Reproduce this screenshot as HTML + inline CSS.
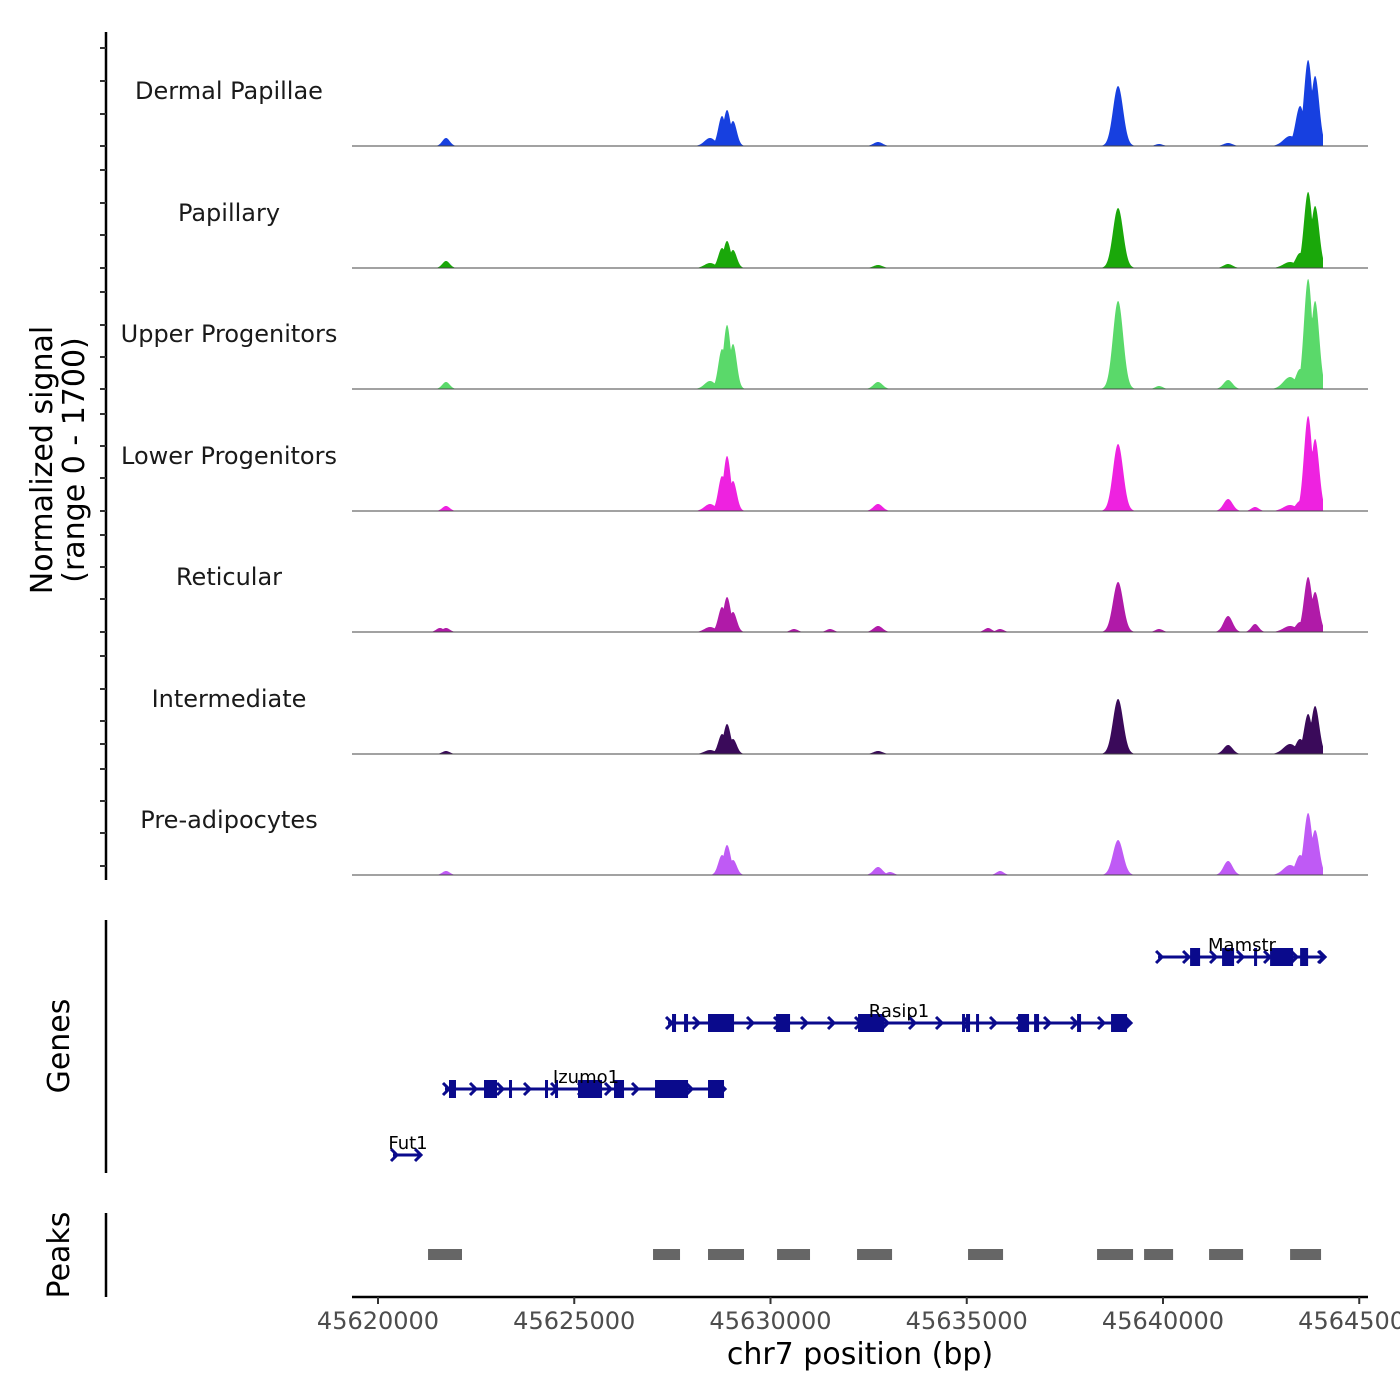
<!DOCTYPE html>
<html><head><meta charset="utf-8"><style>
html,body{margin:0;padding:0;background:#fff;}
svg{display:block;font-family:"DejaVu Sans","Liberation Sans",sans-serif;}
</style></head><body>
<svg id="chart" width="1400" height="1400" viewBox="0 0 1400 1400" xmlns="http://www.w3.org/2000/svg">
<g id="tracks"></g>
<g id="genes"></g>
<g id="peaks"></g>
<g id="axes"></g>
</svg>
<script>
const NS="http://www.w3.org/2000/svg";
const START=45620000;
const trackNames=["Dermal Papillae","Papillary","Upper Progenitors","Lower Progenitors","Reticular","Intermediate","Pre-adipocytes"];
const trackColors=["#1740e0","#1aa80a","#5ad96a","#ee22e0","#b01aa8","#3a0a5a","#bf5af5"];
const peakCenters=[1580,1733,8459,8765,8893,9045,10600,11517,12740,13046,15543,15849,18855,19900,21658,22346,23238,23493,23697,23875];
const peakWidths=[95,95,140,95,95,95,95,95,115,95,95,95,130,95,115,95,170,115,105,105];
const sigDP=[0,112,112,420,504,350,0,0,56,0,0,0,840,28,42,0,140,560,1204,980];
const sigPap=[0,98,70,280,378,252,0,0,42,0,0,0,840,0,56,0,84,210,1064,868];
const sigUp=[0,98,112,560,896,630,0,0,98,0,0,0,1232,42,126,0,168,280,1540,1232];
const sigLow=[0,70,98,490,770,420,0,0,98,0,0,0,938,0,168,56,84,140,1330,1008];
const sigRet=[56,56,70,350,490,280,42,42,84,0,56,42,700,42,224,112,84,140,770,560];
const sigInt=[0,42,56,280,420,210,0,0,42,0,0,0,770,0,126,0,140,210,560,672];
const sigPre=[0,56,0,280,420,210,0,0,112,42,0,56,490,0,196,0,140,280,868,630];
const signals=[sigDP,sigPap,sigUp,sigLow,sigRet,sigInt,sigPre];
const xTicks=[45620000,45625000,45630000,45635000,45640000,45645000];
const peakStarts=[1275,7007,8408,10167,12205,15033,18320,19518,21174,23238];
const peakEnds=[2140,7695,9325,11007,13097,15925,19237,20257,22040,24027];
const geneNames=["Mamstr","Rasip1","Izumo1","Fut1"];
const geneStarts=[19874,7389,1707,382];
const geneEnds=[24104,19110,8816,1070];
const geneExons=[
 [[20690,20945],[21505,21811],[22320,22397],[22728,23314],[23493,23697]],
 [[7491,7593],[7797,7899],[8408,9071],[10141,10498],[12230,12893],[14880,14931],[14982,15084],[15237,15313],[16307,16587],[16715,16842],[17810,17912],[18676,19084]],
 [[1809,1987],[2701,3032],[3338,3389],[4255,4306],[4510,4561],[5096,5708],[6013,6268],[7058,7899],[8408,8816]],
 []
];
const geneRowY=[957,1023,1089,1155];
const geneLabelX=[1242,899,586,408];

const xs=bp=>378+(bp-START)/5000*196.25;
const xo=off=>xs(START+off);
const baselines=[146,268,389,511,632,754,875];
const ys=(v,b)=>b-v/1700*121.5;

function mk(tag,attrs,parent){const e=document.createElementNS(NS,tag);for(const k in attrs)e.setAttribute(k,attrs[k]);parent.appendChild(e);return e;}

const tg=document.getElementById('tracks');
signals.forEach((sig,t)=>{
  const b=baselines[t];
  const g=mk('g',{},tg);
  
  
  const lab=mk('text',{x:229,y:b-47,'text-anchor':'middle','font-size':24,fill:'#1a1a1a'},g);
  lab.textContent=trackNames[t];
  
  
  let d='M352,'+b;
  for(let px=352;px<=1323;px+=0.5){
    const off=(px-378)/196.25*5000;
    let v=0;
    for(let i=0;i<peakCenters.length;i++){
      if(!sig[i])continue;
      const z=(off-peakCenters[i])/peakWidths[i];
      v=Math.max(v,sig[i]*Math.exp(-0.5*z*z));
    }
    d+=' L'+px+','+ys(v,b).toFixed(2);
  }
  d+=' L1323,'+b+' Z';
  const p=mk('path',{d:d,fill:trackColors[t]},g);
  
  
  const bl=mk('line',{x1:352,x2:1368,y1:b,y2:b,stroke:'#444','stroke-width':1},g);
  
  
});

const gg=document.getElementById('genes');
const GC='#0a0a8c';
geneNames.forEach((nm,i)=>{
  const y=geneRowY[i];
  const g=mk('g',{},gg);
  
  
  const x1=xo(geneStarts[i]),x2=xo(geneEnds[i]);
  mk('line',{x1:x1,x2:x2,y1:y,y2:y,stroke:GC,'stroke-width':3},g);
  for(let x=x1+2;x<=x2+1;x+=27){
    mk('path',{d:`M${x-4},${y-6} L${x+2},${y} L${x-4},${y+6}`,fill:'none',stroke:GC,'stroke-width':3},g);
  }
  mk('path',{d:`M${x2-5},${y-6} L${x2+1},${y} L${x2-5},${y+6}`,fill:'none',stroke:GC,'stroke-width':3},g);
  geneExons[i].forEach(e=>{
    const a=xo(e[0]),c=xo(e[1]);
    mk('rect',{x:a,y:y-9,width:Math.max(3,c-a),height:18,fill:GC},g);
  });
  const t=mk('text',{x:geneLabelX[i],y:y-6,'text-anchor':'middle','font-size':18,fill:'#000'},g);
  t.textContent=nm;
  
  
});

const pg=document.getElementById('peaks');
peakStarts.forEach((s,i)=>{
  const r=mk('rect',{x:xo(s),y:1249,width:xo(peakEnds[i])-xo(s),height:11,fill:'#666'},pg);
  
  
});

const ag=document.getElementById('axes');
function axLine(x1,y1,x2,y2,name){const l=mk('line',{x1,y1,x2,y2,stroke:'#000','stroke-width':2.5},ag);return l;}
axLine(106,32,106,880,'signal-y-axis');
const leftTicks=[48,81,114,146,170,203,235,268,292,325,357,389,414,446,478,511,535,567,599,632,656,689,721,744,769,801,833,866];
leftTicks.forEach(y=>{mk('line',{x1:100,x2:106,y1:y,y2:y,stroke:'#333','stroke-width':2},ag);});
axLine(106,920,106,1173,'genes-y-axis');
axLine(106,1213,106,1297,'peaks-y-axis');
axLine(352,1297,1368,1297,'x-axis');
xTicks.forEach(v=>{
  const x=xs(v);
  mk('line',{x1:x,x2:x,y1:1297,y2:1304,stroke:'#333','stroke-width':2},ag);
  const t=mk('text',{x:x,y:1329,'text-anchor':'middle','font-size':24,fill:'#4d4d4d'},ag);
  t.textContent=v;
  
  
});
function txt(s,x,y,size,rot,name){const t=mk('text',{x,y,'text-anchor':'middle','font-size':size,fill:'#000'},ag);if(rot)t.setAttribute('transform',`rotate(-90 ${x} ${y})`);t.textContent=s;}
txt('chr7 position (bp)',860,1364,30,false,'x-axis-title');
txt('Normalized signal',52,460,30,true,'y-axis-title');
txt('(range 0 - 1700)',84,460,30,true,'y-axis-subtitle');
txt('Genes',69,1046,30,true,'genes-title');
txt('Peaks',69,1255,30,true,'peaks-title');
</script>
</body></html>
